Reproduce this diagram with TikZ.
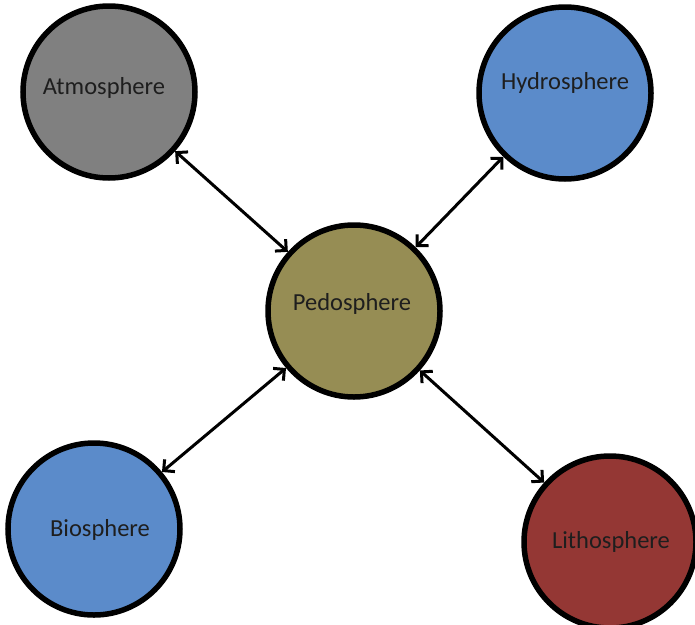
\documentclass[tikz,border=0pt]{standalone}
\usepackage{fontspec}
\setmainfont{Carlito}
\usetikzlibrary{arrows.meta}
\definecolor{airgray}{RGB}{128,128,128}
\definecolor{waterblue}{RGB}{91,139,202}
\definecolor{soilolive}{RGB}{150,141,84}
\definecolor{rockred}{RGB}{148,55,52}
\definecolor{labelink}{RGB}{30,30,30}
\tikzset{
  sphere/.style={circle, draw=black, line width=5.5pt, minimum size=172pt,
    inner sep=0pt},
  spherelabel/.style={font=\fontsize{24.5}{28}\selectfont, text=labelink, inner sep=0pt},
  link/.style={line width=3pt, {Straight Barb[length=8pt,width=16pt,line width=3pt]}-{Straight Barb[length=8pt,width=16pt,line width=3pt]}}
}
\begin{document}
\begin{tikzpicture}[x=1pt, y=-1pt]
  \useasboundingbox (0,0) rectangle (695,624);
  % the five spheres
  \node[sphere, fill=airgray] (atm) at (109,92) {};
  \node[sphere, fill=waterblue] (hyd) at (565,93) {};
  \node[sphere, fill=soilolive] (ped) at (354,311) {};
  \node[sphere, fill=waterblue] (bio) at (94,529) {};
  \node[sphere, fill=rockred] (lit) at (610,542) {};
  % their names, set a little above the centres
  \node[spherelabel] (atmlabel) at (104,88) {Atmosphere};
  \node[spherelabel] (hydlabel) at (565,83) {Hydrosphere};
  \node[spherelabel] (pedlabel) at (352,304) {Pedosphere};
  \node[spherelabel] (biolabel) at (100,530) {Biosphere};
  \node[spherelabel] (litlabel) at (611,542) {Lithosphere};
  % two-way exchanges with the soil
  \draw[link] (atm) -- (ped);
  \draw[link] (hyd) -- (ped);
  \draw[link] (bio) -- (ped);
  \draw[link] (lit) -- (ped);
\end{tikzpicture}
\end{document}
